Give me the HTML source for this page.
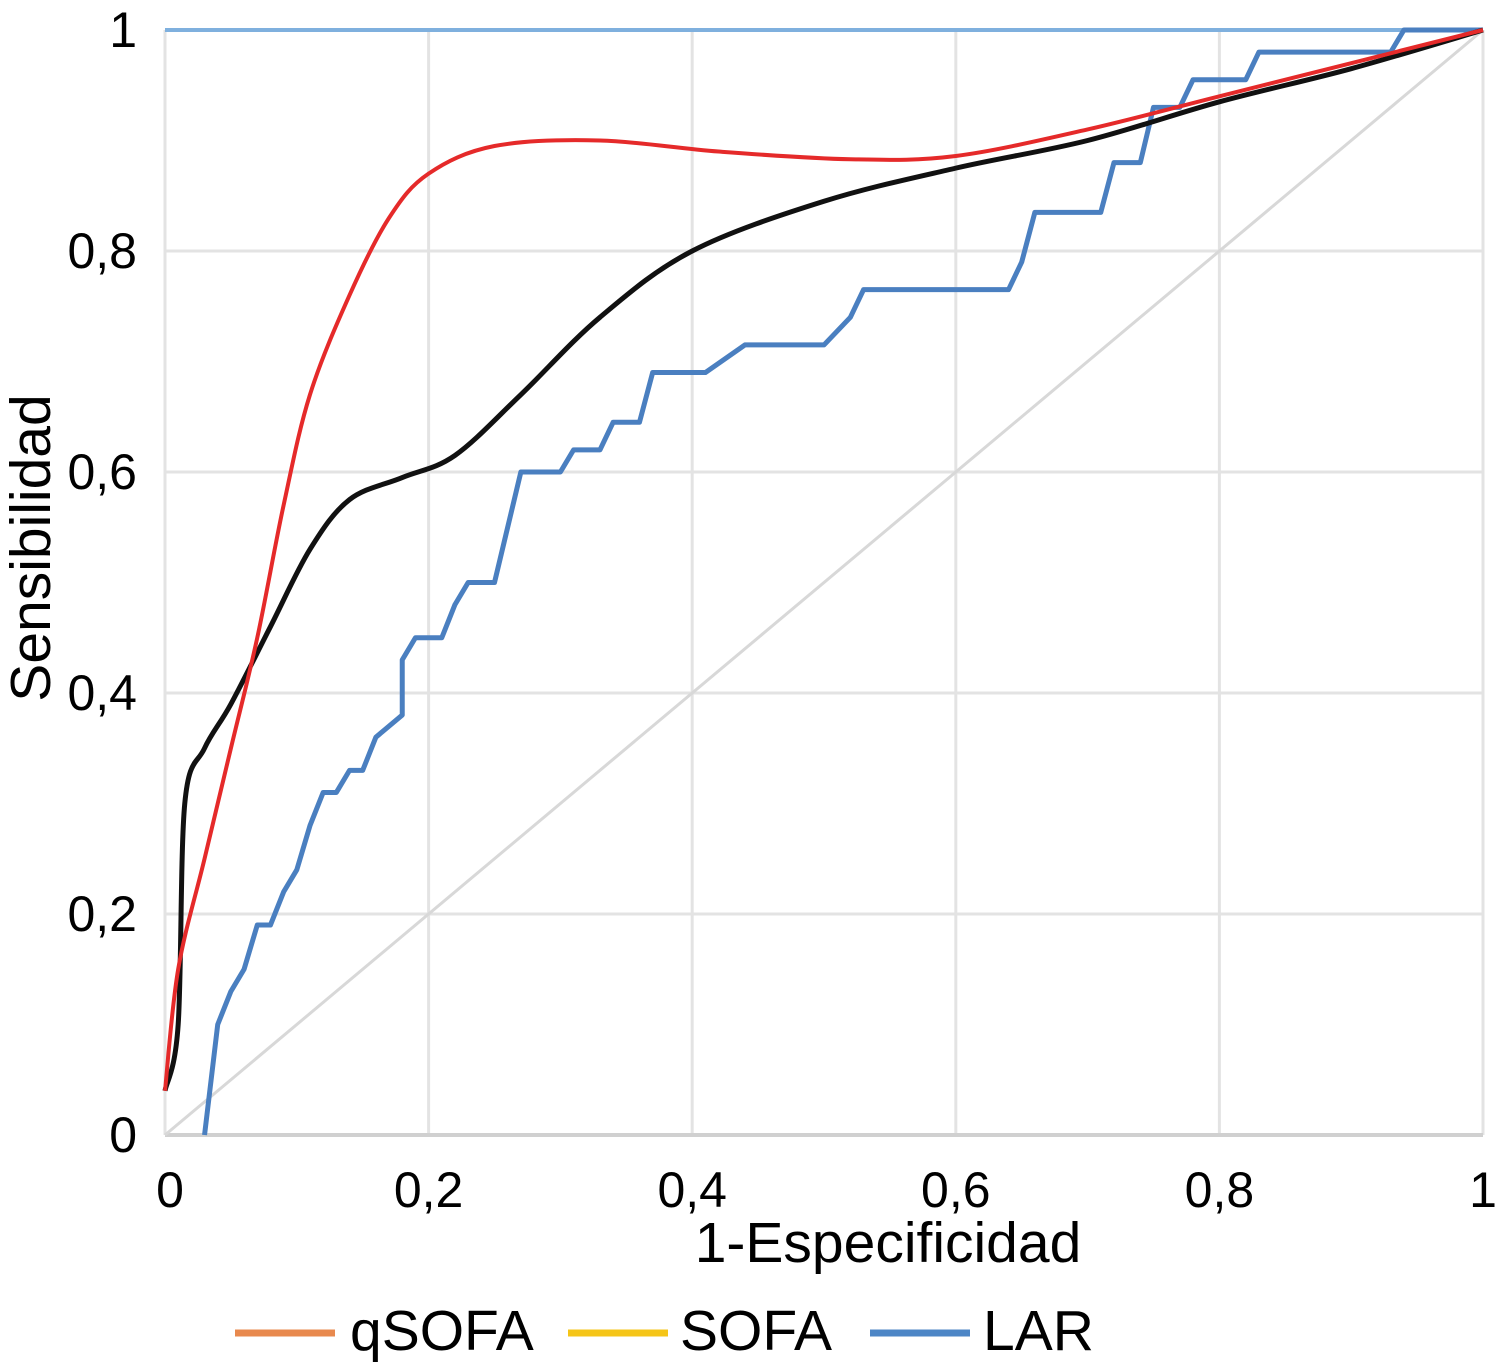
<!DOCTYPE html>
<html><head><meta charset="utf-8"><style>
body{margin:0;background:#fff}
svg{display:block;font-family:"Liberation Sans",Arial,sans-serif}
</style></head><body>
<svg id="c" width="1508" height="1365" viewBox="0 0 1508 1365"></svg>
<script>
const xTicks=[0,0.2,0.4,0.6,0.8,1];
const xTickLabels=["0","0,2","0,4","0,6","0,8","1"];
const yTicks=[0,0.2,0.4,0.6,0.8,1];
const yTickLabels=["0","0,2","0,4","0,6","0,8","1"];
const qsofaX=[0,0.01,0.03,0.05,0.07,0.09,0.11,0.14,0.17,0.2,0.25,0.33,0.42,0.52,0.6,0.7,0.8,0.9,1];
const qsofaY=[0.04,0.15,0.25,0.35,0.45,0.57,0.67,0.76,0.83,0.87,0.895,0.9,0.89,0.883,0.886,0.91,0.94,0.97,1];
const sofaX=[0,0.01,0.015,0.03,0.05,0.08,0.11,0.14,0.18,0.22,0.27,0.33,0.4,0.5,0.6,0.7,0.8,0.9,1];
const sofaY=[0.04,0.1,0.3,0.35,0.39,0.46,0.53,0.575,0.595,0.615,0.67,0.74,0.8,0.845,0.875,0.9,0.935,0.965,1];
const larX=[0.03,0.04,0.05,0.06,0.07,0.08,0.09,0.1,0.11,0.12,0.13,0.14,0.15,0.16,0.18,0.18,0.19,0.21,0.22,0.23,0.25,0.26,0.27,0.3,0.31,0.33,0.34,0.36,0.37,0.41,0.44,0.5,0.52,0.53,0.64,0.65,0.66,0.71,0.72,0.74,0.75,0.77,0.78,0.82,0.83,0.93,0.94,1];
const larY=[0,0.1,0.13,0.15,0.19,0.19,0.22,0.24,0.28,0.31,0.31,0.33,0.33,0.36,0.38,0.43,0.45,0.45,0.48,0.5,0.5,0.55,0.6,0.6,0.62,0.62,0.645,0.645,0.69,0.69,0.715,0.715,0.74,0.765,0.765,0.79,0.835,0.835,0.88,0.88,0.93,0.93,0.955,0.955,0.98,0.98,1,1];

const X0=165,X1=1483,Y0=1135,Y1=30;
const sx=v=>X0+(X1-X0)*v, sy=v=>Y0-(Y0-Y1)*v;
const svg=document.getElementById('c');
const NS='http://www.w3.org/2000/svg';
function mk(t,a,p){const e=document.createElementNS(NS,t);for(const k in a)e.setAttribute(k,a[k]);(p||svg).appendChild(e);return e;}

xTicks.forEach((t,i)=>{
  const g=mk('line',{x1:sx(t),x2:sx(t),y1:Y1,y2:Y0,stroke:'#e3e3e3','stroke-width':3});
  
  
  const l=mk('text',{x:sx(t)+(i==0?5:0),y:1207,'text-anchor':'middle','font-size':50,fill:'#000'});
  l.textContent=xTickLabels[i];
  
  
});
yTicks.forEach((t,i)=>{
  const g=mk('line',{x1:X0,x2:X1,y1:sy(t),y2:sy(t),stroke:'#e3e3e3','stroke-width':3});
  
  
  const l=mk('text',{x:137,y:sy(t)+17,'text-anchor':'end','font-size':50,fill:'#000'});
  l.textContent=yTickLabels[i];
  
  
});
const ax=mk('line',{x1:X0,x2:X1,y1:Y0,y2:Y0,stroke:'#d0d0d0','stroke-width':4});


const dg=mk('line',{x1:sx(0),y1:sy(0),x2:sx(1),y2:sy(1),stroke:'#d8d8d8','stroke-width':3});


const top1=mk('line',{x1:sx(0),y1:sy(1),x2:sx(1),y2:sy(1),stroke:'#7fb0de','stroke-width':4});



function smooth(xs,ys){
  const p=xs.map((x,i)=>[sx(x),sy(ys[i])]);
  let d='M'+p[0][0]+','+p[0][1];
  for(let i=0;i<p.length-1;i++){
    const a=p[Math.max(i-1,0)],b=p[i],c=p[i+1],e=p[Math.min(i+2,p.length-1)];
    d+=` C${b[0]+(c[0]-a[0])/6},${b[1]+(c[1]-a[1])/6} ${c[0]-(e[0]-b[0])/6},${c[1]-(e[1]-b[1])/6} ${c[0]},${c[1]}`;
  }
  return d;
}
const lar=mk('polyline',{points:larX.map((x,i)=>sx(x)+','+sy(larY[i])).join(' '),fill:'none',stroke:'#4a7fc0','stroke-width':5,'stroke-linejoin':'round'});


const so=mk('path',{d:smooth(sofaX,sofaY),fill:'none',stroke:'#111','stroke-width':5});


const qs=mk('path',{d:smooth(qsofaX,qsofaY),fill:'none',stroke:'#e52a2a','stroke-width':4});



const yt=mk('text',{x:0,y:0,transform:'translate(50,548) rotate(-90)','text-anchor':'middle','font-size':57,fill:'#000'});
yt.textContent='Sensibilidad';


const xt=mk('text',{x:888,y:1262,'text-anchor':'middle','font-size':57,fill:'#000'});
xt.textContent='1-Especificidad';



const leg=[["qSOFA","#e8894e",235,350],["SOFA","#f5c518",568,680],["LAR","#4d86c6",870,983]];
leg.forEach(l=>{
  const s=mk('line',{x1:l[2],x2:l[2]+100,y1:1333,y2:1333,stroke:l[1],'stroke-width':7});
  
  
  const t=mk('text',{x:l[3],y:1350,'font-size':57,fill:'#000'});
  t.textContent=l[0];
  
  
});
</script>
</body></html>
